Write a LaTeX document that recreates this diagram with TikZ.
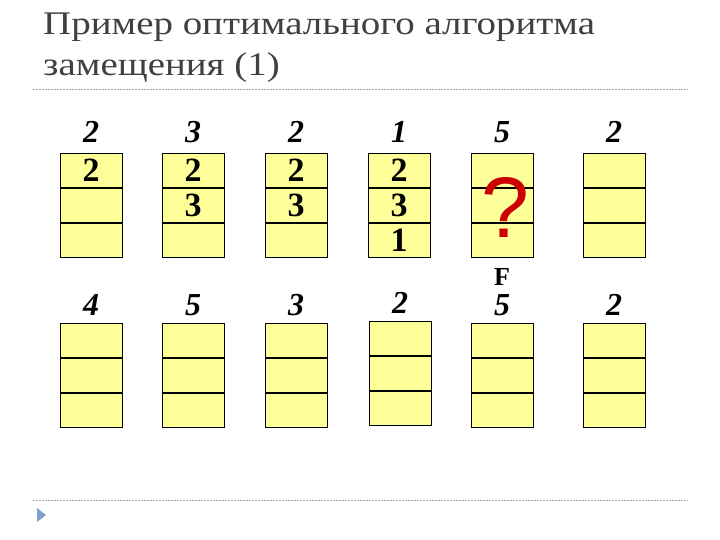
\documentclass[tikz,border=0pt]{standalone}
\usepackage{fontspec}
\setmainfont{Liberation Serif}
\newfontfamily\qfont{Liberation Sans}
\usetikzlibrary{positioning,calc}

\definecolor{pageyellow}{RGB}{255,255,153}
\definecolor{titlegray}{RGB}{64,64,64}
\definecolor{rulegray}{RGB}{165,165,165}
\definecolor{markblue}{RGB}{125,160,205}
\definecolor{qred}{RGB}{204,0,0}

\begin{document}
\begin{tikzpicture}[x=1pt,y=-1pt]
\tikzset{
	cell/.style = {draw, line width=1pt, fill=pageyellow, minimum width=62pt,
		minimum height=34pt, inner sep=0, font=\fontsize{34}{34}\selectfont\bfseries},
	ref/.style = {anchor=base, inner sep=0, font=\fontsize{32}{32}\selectfont\bfseries\itshape},
	headline/.style = {anchor=base west, inner sep=0, text=titlegray, font=\fontsize{33}{33}\selectfont},
	ruler/.style = {rulegray, dash pattern=on 2pt off 1pt, line width=0.7pt}
}
\useasboundingbox (0,0) rectangle (720,540);
% title
\node(title1)[headline] at(43,35){\scalebox{1.18}[1]{Пример оптимального алгоритма}};
\node(title2)[headline] at(43,76){\scalebox{1.18}[1]{замещения (1)}};
\draw[ruler] (33,89) -- (688,89);
% upper row of frames
\foreach \cx/\lab/\ca/\cb/\cc [count=\i] in
	{91/2/2/{}/{}, 193/3/2/3/{}, 296/2/2/3/{}, 399/1/2/3/1, 502/5/{}/{}/{}, 614/2/{}/{}/{}}{
	\node(t\i a)[cell, anchor=north] at(\cx,153){\ca};
	\node(t\i b)[cell, below=0pt of t\i a]{\cb};
	\node(t\i c)[cell, below=0pt of t\i b]{\cc};
	\node(tl\i)[ref] at(\cx,143){\lab};
}
\node(q)[inner sep=0, text=qred, font=\qfont\fontsize{86}{86}\selectfont] at($(t5b)+(3,2)$){?};
% lower row of frames
\foreach \cx/\lab/\top [count=\i] in
	{91/4/323, 193/5/323, 296/3/323, 400/2/321, 502/5/323, 614/2/323}{
	\node(b\i a)[cell, anchor=north] at(\cx,\top){};
	\node(b\i b)[cell, below=0pt of b\i a]{};
	\node(b\i c)[cell, below=0pt of b\i b]{};
	\node(bl\i)[ref] at(\cx,\top-8){\lab};
}
\node(fault)[anchor=base, inner sep=0, font=\fontsize{26}{26}\selectfont\bfseries] at(502,285){F};
% footer
\draw[ruler] (33,500) -- (688,500);
\fill[markblue] (37,508) -- (46,515) -- (37,522) -- cycle;
\end{tikzpicture}
\end{document}
